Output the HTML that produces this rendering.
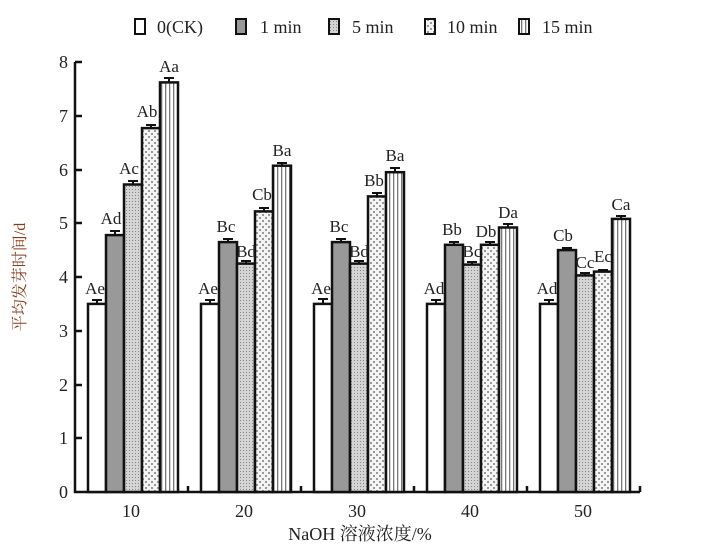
<!DOCTYPE html>
<html><head><meta charset="utf-8"><style>
html,body{margin:0;padding:0;background:#fff;}
svg text{font-family:"Liberation Serif","Noto Serif CJK SC",serif;fill:#222;}
</style></head><body>
<svg width="721" height="549" xmlns="http://www.w3.org/2000/svg">
<defs>
<pattern id="p5" width="3" height="3" patternUnits="userSpaceOnUse"><rect width="3" height="3" fill="#d4d4d4"/><rect width="1" height="1" fill="#888"/></pattern>
<pattern id="p10" width="6" height="6" patternUnits="userSpaceOnUse"><rect width="6" height="6" fill="#f4f4f4"/><rect x="1" y="1" width="2" height="2" fill="#999"/><rect x="4" y="4" width="2" height="2" fill="#999"/></pattern>
<pattern id="p15" width="4" height="4" patternUnits="userSpaceOnUse"><rect width="4" height="4" fill="#fff"/><rect x="1" width="1.3" height="4" fill="#777"/></pattern>
</defs>
<!-- legend -->
<g stroke="#111" stroke-width="2">
<rect x="135" y="19" width="10" height="15" fill="#fff"/>
<rect x="236" y="19" width="10" height="15" fill="#999"/>
<rect x="329" y="19" width="10" height="15" fill="url(#p5)"/>
<rect x="425" y="19" width="10" height="15" fill="url(#p10)"/>
<rect x="519" y="19" width="10" height="15" fill="url(#p15)"/>
</g>
<g font-size="18">
<text x="157" y="33">0(CK)</text>
<text x="260" y="33">1 min</text>
<text x="352" y="33">5 min</text>
<text x="447" y="33">10 min</text>
<text x="542" y="33">15 min</text>
</g>
<!-- axes -->
<g stroke="#111" stroke-width="2.5" fill="none">
<path d="M75 62 V492 H640"/>
<path d="M75 62h7 M75 116h7 M75 170h7 M75 223h7 M75 277h7 M75 331h7 M75 385h7 M75 438h7"/>
<path d="M188 492v-6 M301 492v-6 M414 492v-6 M527 492v-6 M640 492v-6"/>
</g>
<g font-size="18" text-anchor="end">
<text x="68" y="68">8</text><text x="68" y="122">7</text><text x="68" y="176">6</text><text x="68" y="229">5</text>
<text x="68" y="283">4</text><text x="68" y="337">3</text><text x="68" y="391">2</text><text x="68" y="444">1</text><text x="68" y="498">0</text>
</g>
<g font-size="18" text-anchor="middle">
<text x="131" y="517">10</text><text x="244" y="517">20</text><text x="357" y="517">30</text><text x="470" y="517">40</text><text x="583" y="517">50</text>
<text x="360" y="540">NaOH 溶液浓度/%</text>
</g>
<text transform="translate(25 277) rotate(-90)" font-size="16" text-anchor="middle" style="fill:#8b3a1a">平均发芽时间/d</text>
<!-- bars -->
<g stroke="#111" stroke-width="2.5">
<rect x="88" y="303.9" width="18" height="188.1" fill="#fff"/>
<rect x="106" y="235.1" width="18" height="256.9" fill="#999"/>
<rect x="124" y="184.5" width="18" height="307.5" fill="url(#p5)"/>
<rect x="142" y="128.1" width="18" height="363.9" fill="url(#p10)"/>
<rect x="160" y="82.4" width="18" height="409.6" fill="url(#p15)"/>

<rect x="201" y="303.9" width="18" height="188.1" fill="#fff"/>
<rect x="219" y="242.1" width="18" height="249.9" fill="#999"/>
<rect x="237" y="263.6" width="18" height="228.4" fill="url(#p5)"/>
<rect x="255" y="211.4" width="18" height="280.6" fill="url(#p10)"/>
<rect x="273" y="165.7" width="18" height="326.3" fill="url(#p15)"/>

<rect x="314" y="303.9" width="18" height="188.1" fill="#fff"/>
<rect x="332" y="242.1" width="18" height="249.9" fill="#999"/>
<rect x="350" y="263.6" width="18" height="228.4" fill="url(#p5)"/>
<rect x="368" y="196.4" width="18" height="295.6" fill="url(#p10)"/>
<rect x="386" y="172.2" width="18" height="319.8" fill="url(#p15)"/>

<rect x="427" y="303.9" width="18" height="188.1" fill="#fff"/>
<rect x="445" y="244.8" width="18" height="247.2" fill="#999"/>
<rect x="463" y="264.6" width="18" height="227.4" fill="url(#p5)"/>
<rect x="481" y="244.8" width="18" height="247.2" fill="url(#p10)"/>
<rect x="499" y="227.5" width="18" height="264.5" fill="url(#p15)"/>

<rect x="540" y="303.9" width="18" height="188.1" fill="#fff"/>
<rect x="558" y="250.1" width="18" height="241.9" fill="#999"/>
<rect x="576" y="275.4" width="18" height="216.6" fill="url(#p5)"/>
<rect x="594" y="271.6" width="18" height="220.4" fill="url(#p10)"/>
<rect x="612" y="218.9" width="18" height="273.1" fill="url(#p15)"/>
</g>
<!-- error bars -->
<g stroke="#111" stroke-width="2">
<path d="M97 304v-4 M92 300h10 M115 235v-4 M110 231h10 M133 184v-3 M128 181h10 M151 128v-3 M146 125h10 M169 82v-4 M164 78h10"/>
<path d="M210 304v-4 M205 300h10 M228 242v-3 M223 239h10 M246 264v-3 M241 261h10 M264 211v-3 M259 208h10 M282 166v-3 M277 163h10"/>
<path d="M323 304v-5 M318 299h10 M341 242v-3 M336 239h10 M359 264v-3 M354 261h10 M377 196v-3 M372 193h10 M395 172v-4 M390 168h10"/>
<path d="M436 304v-4 M431 300h10 M454 245v-3 M449 242h10 M472 265v-3 M467 262h10 M490 245v-3 M485 242h10 M508 227v-3 M503 224h10"/>
<path d="M549 304v-4 M544 300h10 M567 250v-2 M562 248h10 M585 275v-2 M580 273h10 M603 272v-2 M598 270h10 M621 219v-3 M616 216h10"/>
</g>
<!-- labels -->
<g font-size="17" text-anchor="middle">
<text x="95" y="294">Ae</text><text x="111" y="224">Ad</text><text x="129" y="174">Ac</text><text x="147" y="117">Ab</text><text x="169" y="72">Aa</text>
<text x="208" y="294">Ae</text><text x="226" y="232">Bc</text><text x="246" y="257">Bd</text><text x="262" y="200">Cb</text><text x="282" y="156">Ba</text>
<text x="321" y="294">Ae</text><text x="339" y="232">Bc</text><text x="359" y="257">Bd</text><text x="374" y="186">Bb</text><text x="395" y="161">Ba</text>
<text x="434" y="294">Ad</text><text x="452" y="235">Bb</text><text x="472" y="257">Bc</text><text x="486" y="237">Db</text><text x="508" y="218">Da</text>
<text x="547" y="294">Ad</text><text x="563" y="241">Cb</text><text x="585" y="268">Cc</text><text x="603" y="262">Ec</text><text x="621" y="210">Ca</text>
</g>
</svg>
</body></html>
